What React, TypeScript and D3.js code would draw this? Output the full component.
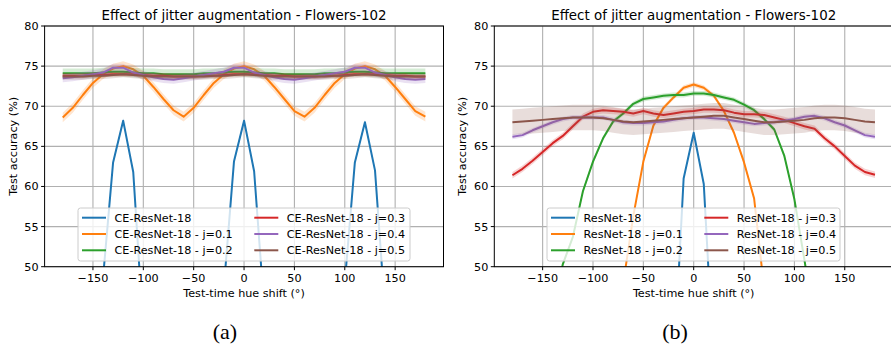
import React from "react";
import * as d3 from "d3";

const hueShifts = [-180,-170,-160,-150,-140,-130,-120,-110,-100,-90,-80,-70,-60,-50,-40,-30,-20,-10,0,10,20,30,40,50,60,70,80,90,100,110,120,130,140,150,160,170,180];
const xTicks = [-150,-100,-50,0,50,100,150];
const yTicks = [50,55,60,65,70,75,80];
const colors = ["#1f77b4","#ff7f0e","#2ca02c","#d62728","#9467bd","#8c564b"];
const leftNames = ["CE-ResNet-18","CE-ResNet-18 - j=0.1","CE-ResNet-18 - j=0.2","CE-ResNet-18 - j=0.3","CE-ResNet-18 - j=0.4","CE-ResNet-18 - j=0.5"];
const rightNames = ["ResNet-18","ResNet-18 - j=0.1","ResNet-18 - j=0.2","ResNet-18 - j=0.3","ResNet-18 - j=0.4","ResNet-18 - j=0.5"];

// Left panel (CE-ResNet-18)
const leftBlue = [30,30,32,38,48.6,63.0,68.2,61.8,42.1,36,33,31,30,31,34,38,47.5,63.1,68.2,61.9,44.9,38,34,31,30,31,33,37,48.0,63.0,68.0,62.0,44.5,38,33,31,30];
const leftOrange = [68.6,69.8,71.4,72.9,74.0,74.7,75.0,74.6,73.8,72.4,70.9,69.5,68.7,69.8,71.4,72.9,74.0,74.7,75.0,74.6,73.8,72.4,70.9,69.4,68.7,69.8,71.4,72.9,74.0,74.7,75.0,74.6,73.8,72.4,70.9,69.4,68.7];
const leftGreen = [74.1,74.1,74.1,74.1,74.2,74.3,74.3,74.2,74.1,74.1,74.0,74.0,74.0,74.0,74.1,74.1,74.2,74.3,74.3,74.2,74.1,74.1,74.0,74.0,74.0,74.0,74.1,74.1,74.2,74.3,74.3,74.2,74.1,74.1,74.1,74.1,74.1];
const leftRed = [73.8,73.8,73.8,73.9,73.9,74.0,74.0,74.0,73.9,73.8,73.8,73.7,73.7,73.7,73.8,73.8,73.9,74.0,74.0,74.0,73.9,73.8,73.8,73.7,73.7,73.7,73.8,73.8,73.9,74.0,74.0,74.0,73.9,73.8,73.8,73.7,73.7];
const leftPurple = [73.5,73.6,73.8,74.0,74.2,74.8,74.8,74.2,73.9,73.6,73.4,73.3,73.5,73.7,73.9,74.1,74.3,74.8,74.8,74.2,73.9,73.6,73.4,73.3,73.5,73.7,73.9,74.1,74.3,74.8,74.8,74.2,73.9,73.6,73.4,73.3,73.4];
const leftBrown = [73.7,73.7,73.7,73.8,73.8,73.9,74.0,73.9,73.8,73.7,73.7,73.7,73.7,73.7,73.7,73.8,73.8,73.9,74.0,73.9,73.8,73.7,73.7,73.7,73.7,73.7,73.7,73.8,73.8,73.9,74.0,73.9,73.8,73.7,73.7,73.7,73.7];
const leftBands = [0.3,0.6,0.6,0.3,0.5,0.4];

// Right panel (ResNet-18)
const rightBlue = [20,20,20,20,20,20,20,20,20,20,20,20,22,24,27,30,37,61.0,66.7,60.3,37.4,30,27,24,22,20,20,20,20,20,20,20,20,20,20,20,20];
const rightOrange = [20,20,20,20,20,20,22,25,28,32,38,47.9,56.3,63.1,67.6,69.8,71.1,72.3,72.7,72.3,71.3,69.4,66.7,63.0,58.5,47.2,38,32,28,25,22,20,20,20,20,20,20];
const rightGreen = [30,33,36,40,44,50.3,53.7,59.4,63.1,66.0,68.1,69.1,70.3,70.9,71.1,71.3,71.4,71.4,71.6,71.6,71.4,71.1,70.8,70.2,69.5,68.4,67.1,63.8,58.4,50.8,43,38,35,32,30,28,27];
const rightRed = [61.4,62.2,63.2,64.3,65.4,66.3,67.5,68.7,69.3,69.5,69.4,69.3,69.1,69.4,69.1,68.9,69.1,69.3,69.4,69.6,69.6,69.5,69.2,69.0,69.0,68.9,68.6,68.3,67.9,67.5,67.2,66.0,65.0,63.8,62.6,61.8,61.45];
const rightPurple = [66.2,66.4,67.0,67.5,68.0,68.4,68.6,68.6,68.6,68.6,68.3,68.0,67.9,67.9,68.0,68.1,68.3,68.5,68.6,68.6,68.5,68.4,68.2,68.0,67.8,67.9,68.0,68.2,68.4,68.7,68.8,68.5,68.0,67.6,67.0,66.4,66.2];
const rightBrown = [68.0,68.1,68.2,68.3,68.4,68.5,68.6,68.6,68.6,68.5,68.3,68.1,68.0,68.1,68.2,68.3,68.4,68.5,68.6,68.7,68.8,68.8,68.6,68.4,68.2,68.0,68.0,68.1,68.2,68.3,68.5,68.6,68.6,68.5,68.3,68.1,68.0];
const rightBands = [0.2,0.3,0.3,0.4,0.3,1.6];

const leftSeries = [leftBlue,leftOrange,leftGreen,leftRed,leftPurple,leftBrown];
const rightSeries = [rightBlue,rightOrange,rightGreen,rightRed,rightPurple,rightBrown];

const FONT = "DejaVu Sans, sans-serif";

type PanelProps = {
  id: string;
  left: number;
  right: number;
  series: number[][];
  bands: number[];
  names: string[];
  legend: { x: number; y: number; w: number; h: number; col2: number };
  caption: string;
  captionX: number;
};

function Panel({ id, left, right, series, bands, names, legend, caption, captionX }: PanelProps) {
  const top = 26;
  const bottom = 266.7;
  const x = d3.scaleLinear().domain([-198, 198]).range([left, right]);
  const y = d3.scaleLinear().domain([50, 80]).range([bottom, top]);
  const line = d3.line<number>().x((_, i) => x(hueShifts[i])).y((d) => y(d));
  const rowH = 16.3;
  return (
    <g>
      <defs>
        <clipPath id={id}>
          <rect x={left} y={top} width={right - left} height={bottom - top} />
        </clipPath>
      </defs>
      {xTicks.map((t) => (
        <line key={"gx" + t} x1={x(t)} x2={x(t)} y1={top} y2={bottom} stroke="#b0b0b0" strokeWidth={1.1} />
      ))}
      {yTicks.map((t) => (
        <line key={"gy" + t} x1={left} x2={right} y1={y(t)} y2={y(t)} stroke="#b0b0b0" strokeWidth={1.1} />
      ))}
      <g clipPath={`url(#${id})`}>
        {series.map((s, k) => {
          const area = d3
            .area<number>()
            .x((_, i) => x(hueShifts[i]))
            .y0((d) => y(d - bands[k]))
            .y1((d) => y(d + bands[k]));
          return (
            <g key={"s" + k}>
              <path d={area(s) || ""} fill={colors[k]} fillOpacity={0.2} stroke="none" />
              <path d={line(s) || ""} fill="none" stroke={colors[k]} strokeWidth={2} strokeLinejoin="round" />
            </g>
          );
        })}
      </g>
      <rect x={left} y={top} width={right - left} height={bottom - top} fill="none" stroke="#000" strokeWidth={1} />
      {xTicks.map((t) => (
        <g key={"tx" + t}>
          <line x1={x(t)} x2={x(t)} y1={bottom} y2={bottom + 3.5} stroke="#000" strokeWidth={1} />
          <text x={x(t)} y={bottom + 15.5} textAnchor="middle" fontSize={11.2} fontFamily={FONT} fill="#000">
            {t < 0 ? "\u2212" + Math.abs(t) : String(t)}
          </text>
        </g>
      ))}
      {yTicks.map((t) => (
        <g key={"ty" + t}>
          <line x1={left - 3.5} x2={left} y1={y(t)} y2={y(t)} stroke="#000" strokeWidth={1} />
          <text x={left - 6} y={y(t) + 4} textAnchor="end" fontSize={11.2} fontFamily={FONT} fill="#000">
            {t}
          </text>
        </g>
      ))}
      <text x={x(0)} y={19.5} textAnchor="middle" fontSize={13.4} fontFamily={FONT} fill="#000">
        Effect of jitter augmentation - Flowers-102
      </text>
      <text x={x(0)} y={297} textAnchor="middle" fontSize={11.2} fontFamily={FONT} fill="#000">
        Test-time hue shift (°)
      </text>
      <text
        transform={`translate(${left - 28},${(top + bottom) / 2}) rotate(-90)`}
        textAnchor="middle"
        fontSize={11.2}
        fontFamily={FONT}
        fill="#000"
      >
        Test accuracy (%)
      </text>
      <rect x={legend.x} y={legend.y} width={legend.w} height={legend.h} rx={2.5} fill="#fff" fillOpacity={0.8} stroke="#cccccc" strokeWidth={1} />
      {names.map((n, k) => {
        const col = k < 3 ? 0 : 1;
        const row = k % 3;
        const lx = col === 0 ? legend.x + 4 : legend.col2;
        const ly = legend.y + 9.7 + row * rowH;
        return (
          <g key={"lg" + k}>
            <line x1={lx} x2={lx + 24} y1={ly} y2={ly} stroke={colors[k]} strokeWidth={2} />
            <text x={lx + 32.5} y={ly + 4} fontSize={11.2} fontFamily={FONT} fill="#000">
              {n}
            </text>
          </g>
        );
      })}
      <text x={captionX} y={339} textAnchor="middle" fontSize={22} fontFamily="Liberation Serif, serif" fill="#000">
        {caption}
      </text>
    </g>
  );
}

export default function App() {
  return (
    <svg width={891} height={347} viewBox="0 0 891 347" style={{ display: "block", position: "absolute", left: 0, top: 0, background: "#fff" }}>
      <rect x={0} y={0} width={891} height={347} fill="#fff" />
      <Panel
        id="clipL"
        left={44.6}
        right={443.5}
        series={leftSeries}
        bands={leftBands}
        names={leftNames}
        legend={{ x: 78, y: 208, w: 332, h: 53, col2: 254.3 }}
        caption="(a)"
        captionX={225}
      />
      <Panel
        id="clipR"
        left={494.3}
        right={893.1}
        series={rightSeries}
        bands={rightBands}
        names={rightNames}
        legend={{ x: 547, y: 208, w: 293, h: 53, col2: 704.3 }}
        caption="(b)"
        captionX={675}
      />
    </svg>
  );
}
